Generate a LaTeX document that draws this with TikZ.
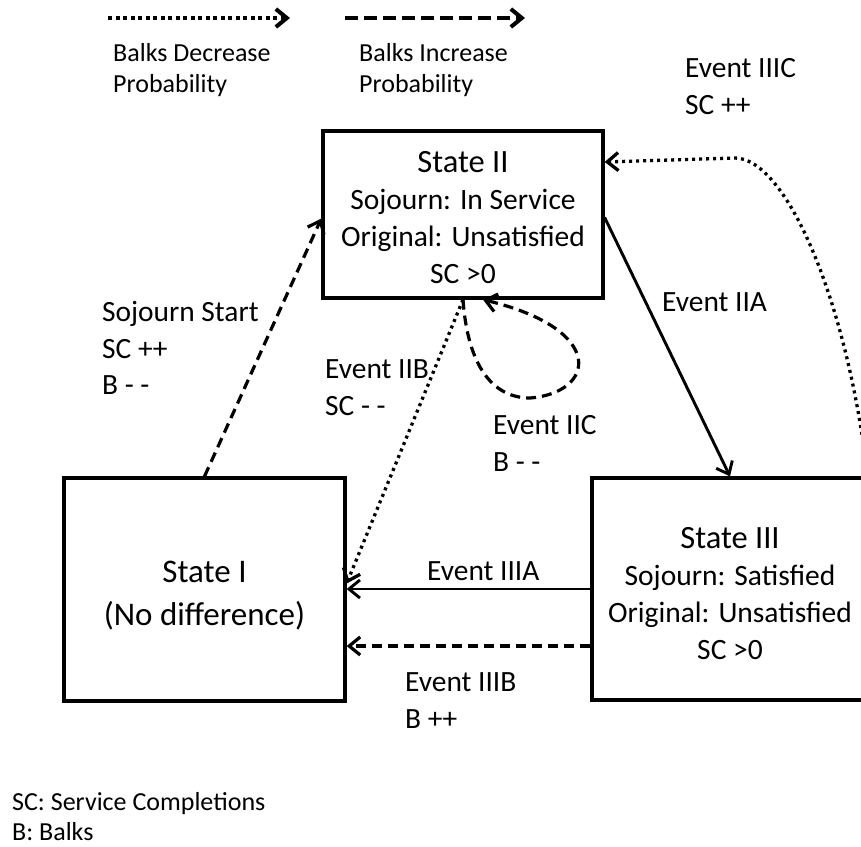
\documentclass[tikz,border=0pt]{standalone}
\usepackage{fontspec}
\setmainfont{Carlito}
\usetikzlibrary{arrows.meta}
\begin{document}
\begin{tikzpicture}[x=1pt,y=-1pt,
  statebox/.style={draw,line width=3.3pt,inner sep=0pt},
  statetext/.style={align=center,inner sep=0pt,font=\fontsize{29.5}{37}\selectfont},
  lbl/.style={anchor=west,align=left,inner sep=0pt,font=\fontsize{29.4}{36.5}\selectfont},
  small/.style={anchor=west,align=left,inner sep=0pt,font=\fontsize{26}{30.5}\selectfont},
  tip/.style={-{Straight Barb[length=11pt,width=18pt]}},
  solidarrow/.style={tip,line width=2.9pt},
  dashedarrow/.style={tip,line width=3.2pt,dash pattern=on 10pt off 6pt},
  dottedarrow/.style={tip,line width=3.3pt,dash pattern=on 3pt off 4pt},
]
\useasboundingbox (0,0) rectangle (861,846);
\clip (0,0) rectangle (861,846);

% legend
\coordinate (d0) at (108,18);
\coordinate (d1) at (290,18);
\coordinate (e0) at (345,18);
\coordinate (e1) at (525,18);
\draw[tip,line width=4pt,dash pattern=on 4pt off 3.5pt] (d0) -- (d1);
\draw[tip,line width=4pt,dash pattern=on 13pt off 6pt] (e0) -- (e1);
\node[small] (leg1) at (113,70) {Balks Decrease\\Probability};
\node[small] (leg2) at (359,70) {Balks Increase\\Probability};

% states
\node[statebox,minimum width=281pt,minimum height=223pt] (s1) at (204.5,589.5) {};
\node[statetext,font=\fontsize{33}{43}\selectfont] (s1t) at ([yshift=-6pt]s1.center)
  {State I\\(No difference)};
\node[statebox,minimum width=280pt,minimum height=167pt] (s2) at (463,214.5) {};
\node[statetext] (s2t) at ([yshift=-3.5pt]s2.center)
  {{\fontsize{32.5}{37}\selectfont State II}\\Sojourn: In Service\\Original: Unsatisfied\\SC >0};
\node[statebox,minimum width=276pt,minimum height=222pt] (s3) at (730,589) {};
\node[statetext] (s3t) at ([yshift=-5pt]s3.center)
  {{\fontsize{32.5}{37}\selectfont State III}\\Sojourn: Satisfied\\Original: Unsatisfied\\SC >0};

% transitions
\draw[dashedarrow] (s1.north) -- ([yshift=-4pt]s2.west);
\draw[solidarrow] ([yshift=-3pt]s2.east) -- (s3.north);
\draw[dottedarrow] (s2.south) -- ([yshift=6pt]s1.east);
\draw[solidarrow] (s3.west) -- (s3.west -| s1.east);
\coordinate (b3) at ([yshift=-57pt]s3.west);
\draw[dashedarrow] (b3) -- (b3 -| s1.east);

% self loop on state II
\coordinate (loopbottom) at (530,398);
\draw[dashedarrow] (s2.south) .. controls +(5,70) and +(-35,0) .. (loopbottom)
  .. controls +(65,-5) and +(125,30) .. ([xshift=20pt]s2.south);

% long return arc from state III
\coordinate (c3) at ([xshift=-2pt]s3.north east);
\coordinate (arctop) at (735,158);
\draw[dottedarrow] (c3) .. controls +(-21,-180) and +(50,0) .. (arctop)
  -- ([yshift=52.5pt]s2.east);

% labels
\node[lbl] (lss) at (102,348) {Sojourn Start\\SC ++\\B - -};
\node[lbl] (l3c) at (685,86.5) {Event IIIC\\SC ++};
\node[lbl] (l2a) at (662,302) {Event IIA};
\node[lbl] (l2b) at (325,387.5) {Event IIB\\SC - -};
\node[lbl] (l2c) at (493,443.5) {Event IIC\\B - -};
\node[lbl] (l3a) at (427,571) {Event IIIA};
\node[lbl] (l3b) at (405,700.5) {Event IIIB\\B ++};

% abbreviations
\node[small] (note) at (12,816.5) {SC: Service Completions\\B: Balks};
\end{tikzpicture}
\end{document}
